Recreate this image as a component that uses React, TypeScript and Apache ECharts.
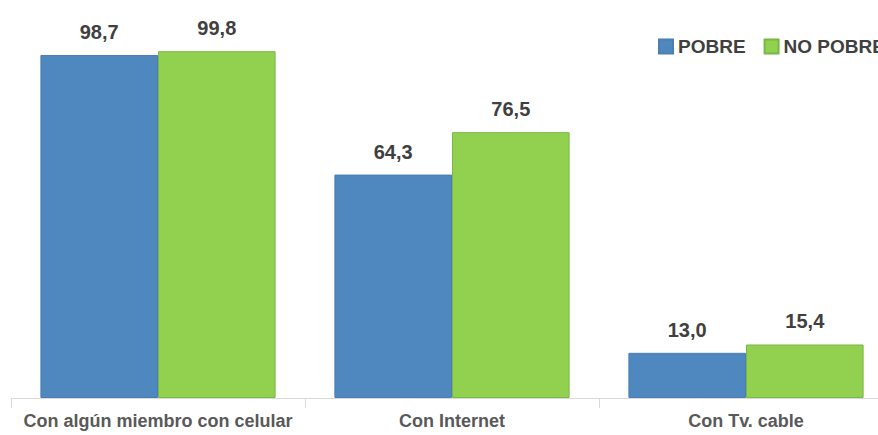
import React, { useEffect, useRef } from "react";
import * as echarts from "echarts";

const categories = ["Con algún miembro con celular", "Con Internet", "Con Tv. cable"];
const pobre = [98.7, 64.3, 13.0];
const noPobre = [99.8, 76.5, 15.4];
const seriesNames = ["POBRE", "NO POBRE"];

const FONT = "'Liberation Sans', Arial, sans-serif";

export default function App() {
  const ref = useRef<HTMLDivElement>(null);
  useEffect(() => {
    if (!ref.current) return;
    const chart = echarts.init(ref.current, undefined, { renderer: "svg" });
    const fmt = (p: any) => Number(p.value).toFixed(1).replace(".", ",");
    chart.setOption({
      animation: false,
      backgroundColor: "#ffffff",
      legend: {
        orient: "horizontal",
        left: 658,
        top: 37,
        width: 400,
        padding: 0,
        itemWidth: 14,
        itemHeight: 14,
        itemGap: 18,
        icon: "rect",
        textStyle: { fontFamily: FONT, fontWeight: "bold", fontSize: 19, color: "#404040" },
        data: seriesNames,
      },
      grid: { left: 11, width: 882, top: 50.5, height: 347.5, containLabel: false, outerBoundsMode: "none" },
      xAxis: {
        type: "category",
        data: categories,
        axisLine: { lineStyle: { color: "#d9d9d9", width: 1 } },
        axisTick: { show: true, length: 10, lineStyle: { color: "#d9d9d9" } },
        axisLabel: { interval: 0, fontFamily: FONT, fontWeight: "bold", fontSize: 18, color: "#595959", margin: 14 },
      },
      yAxis: {
        type: "value",
        min: 0,
        max: 100,
        show: false,
        splitLine: { show: false },
      },
      series: [
        {
          name: seriesNames[0],
          type: "bar",
          data: pobre,
          barWidth: "40%",
          barGap: "0%",
          itemStyle: { color: "#4F88BE", borderColor: "#4A7EB5", borderWidth: 1 },
          label: { show: true, position: "top", distance: 13, formatter: fmt, fontFamily: FONT, fontWeight: "bold", fontSize: 20, color: "#404040" },
        },
        {
          name: seriesNames[1],
          type: "bar",
          data: noPobre,
          barWidth: "40%",
          barGap: "0%",
          itemStyle: { color: "#92D050", borderColor: "#77B843", borderWidth: 1 },
          label: { show: true, position: "top", distance: 13, formatter: fmt, fontFamily: FONT, fontWeight: "bold", fontSize: 20, color: "#404040" },
        },
      ],
    });
    return () => chart.dispose();
  }, []);
  return <div ref={ref} style={{ width: 878, height: 435, position: "absolute", left: 0, top: 0 }} />;
}
